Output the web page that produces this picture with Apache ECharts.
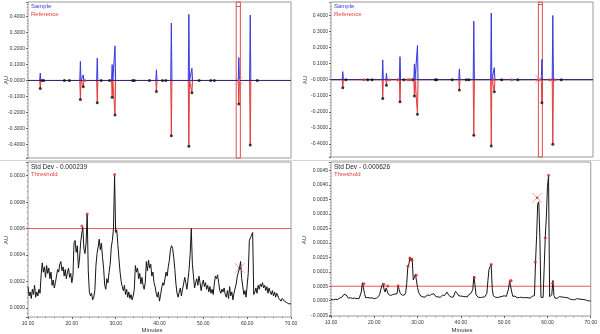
<!DOCTYPE html>
<html>
<head>
<meta charset="utf-8">
<script src="https://cdn.jsdelivr.net/npm/echarts@6/dist/echarts.min.js"></script>
<style>
  html, body { margin: 0; padding: 0; background: #fff; }
  #chart { width: 600px; height: 334px; }
</style>
</head>
<body>
<div id="chart"></div>
<script>
// ---------- Overlay panels: retention time (min) and apex heights (AU) ----------
const leftPeakTimes      = [12.8, 21.95, 22.6, 25.8, 29.2, 29.85, 39.3, 42.7, 46.7, 47.4, 58.1, 60.7];
const leftSampleApex     = [0.046, 0.120, 0.035, 0.140, 0.100, 0.217, 0.067, 0.360, 0.415, 0.077, 0.144, 0.410];
const leftReferenceApex  = [-0.050, -0.120, -0.040, -0.140, -0.105, -0.217, -0.069, -0.347, -0.413, -0.077, -0.148, -0.405];
const leftBaselineDots   = [13.2, 13.6, 18.3, 19.45, 26.7, 28.6, 33.9, 34.25, 37.7, 40.7, 41.45, 49.05, 51.7, 52.5, 62.3];
const leftBaselineRed    = [22.9];

const rightPeakTimes     = [12.7, 21.85, 22.7, 25.8, 29.1, 29.8, 39.4, 42.7, 46.7, 47.4, 58.3, 60.8];
const rightSampleApex    = [0.050, 0.123, 0.040, 0.144, 0.098, 0.213, 0.067, 0.365, 0.415, 0.075, 0.127, 0.400];
const rightReferenceApex = [-0.050, -0.117, -0.035, -0.138, -0.102, -0.215, -0.065, -0.346, -0.413, -0.075, -0.144, -0.402];
const rightBaselineDots  = [13.4, 18.4, 19.4, 26.7, 28.7, 33.9, 34.2, 37.75, 41.0, 41.6, 49.1, 52.8, 62.75];
const rightBaselineRed   = [17.5, 23.4, 25.3, 27.6, 27.9, 28.3, 47.1, 51.4, 57.4, 57.8, 60.1, 61.2];

// integration window (min) and the cursor mark inside it
const leftWindow  = [57.5, 58.45];
const rightWindow = [57.5, 58.4];
const windowCapValue = 0.467;
const leftTopCursor  = [58.1, 0];
const rightTopCursor = [57.7, 0.004];

// ---------- Std-dev panels: sampled every 0.25 min from 10.00, values in 1e-5 AU ----------
const SAMPLE_START = 10;
const SAMPLE_STEP = 0.25;
const UNIT = 1e-5;
const leftStdDev = [
  16,9,12,7,14,10,17,8,12,9,14,11,25,34,27,31,23,32,26,30,
  22,27,17,21,15,19,24,29,27,33,35,28,31,24,29,22,27,30,23,26,
  19,24,49,51,42,47,30,37,49,56,61,45,41,49,71,28,12,9,11,6,
  8,13,32,41,46,52,44,49,38,30,17,14,22,19,27,33,46,51,60,100,
  57,59,48,37,27,20,16,13,17,10,14,8,12,7,10,6,9,14,32,27,
  30,22,26,18,23,17,14,19,35,28,36,30,33,24,27,19,16,11,8,12,
  5,10,15,19,17,22,27,24,31,36,44,47,45,38,29,18,11,8,12,15,
  9,14,18,23,19,14,21,29,41,60,33,24,15,19,22,17,24,19,13,18,
  21,16,19,14,17,12,16,11,14,10,18,24,22,25,19,13,11,14,12,15,
  10,8,13,7,16,9,12,6,11,15,18,24,27,30,35,22,23,10,13,8,
  9,26,51,53,55,57,10,12,15,11,17,14,18,16,19,15,17,13,16,11,
  15,12,10,13,9,12,8,11,9,7,8,5,7,6,5,6,4,5,3,4,
  3
];
const rightStdDev = [
  4,6,3,7,5,8,4,6,9,7,12,18,22,24,20,15,9,7,10,6,
  8,5,9,6,7,4,8,12,30,62,56,25,10,8,11,7,9,6,10,8,
  7,10,9,13,15,22,38,52,60,40,30,44,50,22,20,18,24,21,19,23,
  20,24,50,38,25,22,19,23,20,28,60,118,128,150,138,147,72,80,92,88,
  45,28,22,16,19,13,17,12,16,20,14,18,15,22,17,24,19,14,18,13,
  16,12,15,19,14,18,22,30,26,18,14,12,16,13,19,32,36,24,17,14,
  16,12,15,11,14,17,13,20,18,24,22,38,85,55,20,14,12,15,11,14,
  12,16,13,18,25,70,108,118,125,40,17,14,12,15,11,16,13,18,15,20,
  17,22,15,19,40,68,72,30,15,12,16,13,10,14,11,15,12,16,10,13,
  11,14,10,13,9,12,15,11,18,135,225,335,342,215,12,10,11,14,222,290,
  395,430,14,10,20,70,18,9,12,8,11,14,10,13,9,12,15,11,13,10,
  8,5,7,4,6,3,5,7,4,6,2,5,3,4,1,3,2,0,1,-1,
  0
];
const leftThreshold = 0.0006;
const rightThreshold = 0.0005;
const leftFlagTimes   = [22.3, 23.5, 29.75];
const leftFlagValues  = [0.00062, 0.00071, 0.00101];
const rightFlagTimes  = [17.6, 22.2, 23.1, 25.5, 27.8, 28.2, 28.7, 29.7, 43.1, 47.0, 51.4, 51.6, 57.2, 59.5, 60.25, 61.2];
const rightFlagValues = [0.00059, 0.00057, 0.00051, 0.00052, 0.00119, 0.00148, 0.0014, 0.00088, 0.0008, 0.00125, 0.00068, 0.0007, 0.00134, 0.00218, 0.00434, 0.0006];
const leftBottomCursor  = [58.3, 0.0003];
const rightBottomCursor = [57.6, 0.00356];

// ---------- helpers ----------
const FONT = 'Liberation Sans';
const BLUE = '#3a3adc', RED = '#e23c3c', PINK = '#f08a8a';
const SPIKE_HALF = 0.14; // half base width of a drawn peak, minutes

function spikeLine(times, apex) {
  const d = [[10, 0]];
  times.forEach((t, i) => { d.push([t - SPIKE_HALF, 0], [t, apex[i]], [t + SPIKE_HALF, 0]); });
  d.push([70, 0]);
  return d;
}
const zip = (a, b) => a.map((t, i) => [t, b[i]]);
const onBaseline = a => a.map(t => [t, 0]);
const sampled = vals => vals.map((v, i) => [SAMPLE_START + i * SAMPLE_STEP, v * UNIT]);
const CROSS = 'path://M0,0L10,10M10,0L0,10';

function xAxis(gi, labels) {
  return {
    type: 'value', gridIndex: gi, min: 10, max: 70, interval: 10,
    axisLine: { show: false, onZero: false },
    axisTick: { show: labels, length: 2, lineStyle: { color: '#666' } },
    minorTick: { show: labels, splitNumber: 5, length: 1.2, lineStyle: { color: '#888' } },
    splitLine: { show: false },
    axisLabel: { show: labels, fontSize: 5, fontFamily: FONT, color: '#333', margin: 4.5,
                 formatter: v => v.toFixed(2) }
  };
}
function yAxis(gi, min, max, split, step, signedZero) {
  return {
    type: 'value', gridIndex: gi, min, max, splitNumber: split,
    axisLine: { show: false, onZero: false },
    axisTick: { show: true, length: 2, lineStyle: { color: '#666' } },
    minorTick: { show: true, splitNumber: 5, length: 1.2, lineStyle: { color: '#999' } },
    splitLine: { show: false },
    axisLabel: {
      fontSize: 5, fontFamily: FONT, color: '#333', margin: 3, showMinLabel: false, showMaxLabel: false,
      formatter: v => {
        const k = v / step;
        if (Math.abs(k - Math.round(k)) > 1e-6) return '';
        const n = Math.round(k);
        if (n === 0) return signedZero ? '-0.0000' : '0.0000';
        return (n * step).toFixed(4);
      }
    }
  };
}
function overlaySeries(gi, times, sample, reference, dots, redDots, win, cursor) {
  return [
    { type: 'line', xAxisIndex: gi, yAxisIndex: gi, data: spikeLine(times, reference), symbol: 'none',
      lineStyle: { color: RED, width: 1 }, areaStyle: { color: '#f8c8c8' }, z: 2, animation: false },
    { type: 'line', xAxisIndex: gi, yAxisIndex: gi, data: spikeLine(times, sample), symbol: 'none',
      lineStyle: { color: BLUE, width: 1 }, areaStyle: { color: '#c4c4f4' }, z: 3, animation: false },
    { type: 'line', xAxisIndex: gi, yAxisIndex: gi, data: [[10, 0], [70, 0]], symbol: 'none',
      lineStyle: { color: '#3a2872', width: 1 }, z: 4, animation: false,
      markArea: { silent: true, itemStyle: { color: 'rgba(0,0,0,0)', borderColor: '#e05050', borderWidth: 1 },
                  data: [[{ xAxis: win[0] }, { xAxis: win[1] }]] },
      markLine: { silent: true, symbol: 'none', precision: 6, label: { show: false },
                  lineStyle: { color: '#e05050', width: 1, type: 'solid' },
                  data: [[{ coord: [win[0], windowCapValue] }, { coord: [win[1], windowCapValue] }]] } },
    { type: 'scatter', xAxisIndex: gi, yAxisIndex: gi, data: zip(times, reference), symbolSize: 3,
      itemStyle: { color: '#111' }, z: 6, animation: false },
    { type: 'scatter', xAxisIndex: gi, yAxisIndex: gi, data: onBaseline(dots), symbolSize: 3,
      itemStyle: { color: '#111' }, z: 6, animation: false },
    { type: 'scatter', xAxisIndex: gi, yAxisIndex: gi, data: onBaseline(redDots), symbolSize: 3,
      itemStyle: { color: RED }, z: 6, animation: false },
    { type: 'scatter', xAxisIndex: gi, yAxisIndex: gi, data: [cursor], symbol: CROSS, symbolSize: 8,
      itemStyle: { color: 'rgba(0,0,0,0)', borderColor: PINK, borderWidth: 1 }, z: 7, animation: false }
  ];
}
function stdDevSeries(gi, vals, threshold, flagT, flagV, cursor, cursorDot) {
  return [
    { type: 'line', xAxisIndex: gi, yAxisIndex: gi, data: [[10, threshold], [70, threshold]], symbol: 'none',
      lineStyle: { color: '#e85a5a', width: 1 }, z: 2, animation: false },
    { type: 'line', xAxisIndex: gi, yAxisIndex: gi, data: sampled(vals), symbol: 'none',
      lineStyle: { color: '#151515', width: 1 }, z: 3, animation: false },
    { type: 'scatter', xAxisIndex: gi, yAxisIndex: gi, data: zip(flagT, flagV), symbolSize: 3,
      itemStyle: { color: '#e02828' }, z: 5, animation: false },
    { type: 'scatter', xAxisIndex: gi, yAxisIndex: gi, data: [cursor], symbol: CROSS, symbolSize: 10,
      itemStyle: { color: 'rgba(0,0,0,0)', borderColor: PINK, borderWidth: 1 }, z: 6, animation: false },
    { type: 'scatter', xAxisIndex: gi, yAxisIndex: gi, data: [cursor], symbolSize: 2.5,
      itemStyle: { color: cursorDot }, z: 7, animation: false }
  ];
}
function label(text, x, y, color, size) {
  return { type: 'text', x, y, silent: true,
           style: { text, fill: color, font: size + 'px "' + FONT + '"', verticalAlign: 'top' } };
}
function centered(text, x, y, rot) {
  return { type: 'text', x, y, rotation: rot || 0, silent: true,
           style: { text, fill: '#333', font: '6px "' + FONT + '"', align: 'center', verticalAlign: 'middle' } };
}

const gridStyle = { show: true, borderColor: '#9a9a9a', borderWidth: 1, backgroundColor: '#fff' };
const option = {
  backgroundColor: '#fff',
  animation: false,
  grid: [
    Object.assign({ left: 28, top: 2, width: 263, height: 156 }, gridStyle),
    Object.assign({ left: 331, top: 2, width: 262, height: 155 }, gridStyle),
    Object.assign({ left: 28, top: 162, width: 263, height: 155 }, gridStyle),
    Object.assign({ left: 331, top: 162, width: 262, height: 154 }, gridStyle)
  ],
  xAxis: [xAxis(0, false), xAxis(1, false), xAxis(2, true), xAxis(3, true)],
  yAxis: [
    yAxis(0, -0.486, 0.492, 10, 0.1, true),
    yAxis(1, -0.482, 0.484, 10, 0.1, true),
    yAxis(2, -0.00007, 0.001104, 6, 0.0002, false),
    yAxis(3, -0.000529, 0.004796, 10, 0.0005, false)
  ],
  series: [].concat(
    overlaySeries(0, leftPeakTimes, leftSampleApex, leftReferenceApex, leftBaselineDots, leftBaselineRed, leftWindow, leftTopCursor),
    overlaySeries(1, rightPeakTimes, rightSampleApex, rightReferenceApex, rightBaselineDots, rightBaselineRed, rightWindow, rightTopCursor),
    stdDevSeries(2, leftStdDev, leftThreshold, leftFlagTimes, leftFlagValues, leftBottomCursor, '#111'),
    stdDevSeries(3, rightStdDev, rightThreshold, rightFlagTimes, rightFlagValues, rightBottomCursor, '#e02828')
  ),
  graphic: [
    { type: 'line', silent: true, shape: { x1: 0, y1: 160.5, x2: 600, y2: 160.5 }, style: { stroke: '#d4d4d4', lineWidth: 1 } },
    label('Sample', 31, 3.5, BLUE, 6),
    label('Reference', 31, 11.5, RED, 6),
    label('Sample', 334, 3.5, BLUE, 6),
    label('Reference', 334, 11.5, RED, 6),
    label('Std Dev - 0.000239', 31, 163.5, '#222', 6.5),
    label('Threshold', 31, 171.5, RED, 6),
    label('Std Dev - 0.000626', 334, 163.5, '#222', 6.5),
    label('Threshold', 334, 171.5, RED, 6),
    centered('AU', 6, 80, Math.PI / 2),
    centered('AU', 6, 240, Math.PI / 2),
    centered('AU', 305, 80, Math.PI / 2),
    centered('AU', 304, 240, Math.PI / 2),
    centered('Minutes', 152, 330.5),
    centered('Minutes', 462, 330.5)
  ]
};
echarts.init(document.getElementById('chart'), null, { renderer: 'canvas' }).setOption(option);
</script>
</body>
</html>
